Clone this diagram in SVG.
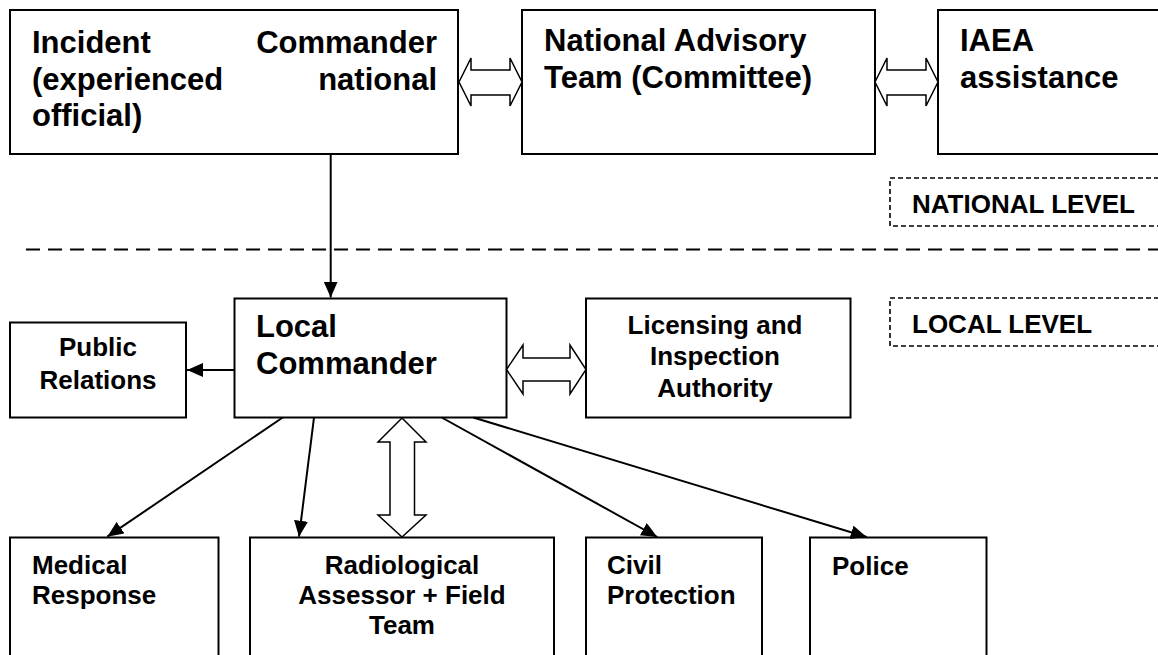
<svg xmlns="http://www.w3.org/2000/svg" width="1158" height="655" viewBox="0 0 1158 655">
<style>
.box{fill:#fff;stroke:#000;stroke-width:2}
.lvl{fill:#fff;stroke:#000;stroke-width:1.6;stroke-dasharray:5 3}
.t{font-family:"Liberation Sans",Arial,sans-serif;font-weight:bold;fill:#000}
.big{font-size:31px}
.med{font-size:26px}
.c{text-anchor:middle}
.e{text-anchor:end}
.line{stroke:#000;stroke-width:2;fill:none}
.dbl{fill:#fff;stroke:#000;stroke-width:1.5;stroke-linejoin:miter}
</style>
<defs>
<marker id="ah" markerUnits="userSpaceOnUse" markerWidth="16" markerHeight="14" refX="16" refY="7" orient="auto">
<path d="M0,0 L16,7 L0,14 z" fill="#000"/>
</marker>
</defs>
<rect width="1158" height="655" fill="#fff"/>

<line x1="26" y1="249.5" x2="1158" y2="249.5" stroke="#000" stroke-width="2" stroke-dasharray="14 8"/>

<g id="incident-commander">
<rect class="box" x="10" y="10" width="448" height="144"/>
<text class="t big" x="32" y="53">Incident</text>
<text class="t big e" x="437" y="53">Commander</text>
<text class="t big" x="32" y="89.5">(experienced</text>
<text class="t big e" x="437" y="89.5">national</text>
<text class="t big" x="32" y="126">official)</text>
</g>

<g id="national-advisory">
<rect class="box" x="522" y="10" width="353" height="144"/>
<text class="t big" x="544" y="51">National Advisory</text>
<text class="t big" x="544" y="88">Team (Committee)</text>
</g>

<g id="iaea">
<rect class="box" x="938" y="10" width="240" height="144"/>
<text class="t big" x="960" y="51">IAEA</text>
<text class="t big" x="960" y="88">assistance</text>
</g>

<g id="national-level">
<rect class="lvl" x="890" y="178" width="300" height="48"/>
<text class="t med" x="912" y="212.5">NATIONAL LEVEL</text>
</g>

<g id="local-level">
<rect class="lvl" x="890" y="298" width="300" height="48"/>
<text class="t med" x="912" y="332.5">LOCAL LEVEL</text>
</g>

<g id="local-commander">
<rect class="box" x="234.5" y="298.5" width="272" height="119"/>
<text class="t big" x="256" y="337">Local</text>
<text class="t big" x="256" y="374">Commander</text>
</g>

<g id="public-relations">
<rect class="box" x="10" y="322.5" width="176" height="95"/>
<text class="t med c" x="98" y="356">Public</text>
<text class="t med c" x="98" y="388.5">Relations</text>
</g>

<g id="licensing">
<rect class="box" x="586" y="298.5" width="264.5" height="119"/>
<text class="t med c" x="715" y="333.5">Licensing and</text>
<text class="t med c" x="715" y="365">Inspection</text>
<text class="t med c" x="715" y="396.5">Authority</text>
</g>

<g id="medical">
<rect class="box" x="10" y="537.5" width="208.5" height="140"/>
<text class="t med" x="32" y="573.5">Medical</text>
<text class="t med" x="32" y="603.5">Response</text>
</g>

<g id="radiological">
<rect class="box" x="250" y="537.5" width="304" height="140"/>
<text class="t med c" x="402" y="573.5">Radiological</text>
<text class="t med c" x="402" y="603.5">Assessor + Field</text>
<text class="t med c" x="402" y="633.5">Team</text>
</g>

<g id="civil-protection">
<rect class="box" x="586" y="537.5" width="176" height="140"/>
<text class="t med" x="607" y="573.5">Civil</text>
<text class="t med" x="607" y="604">Protection</text>
</g>

<g id="police">
<rect class="box" x="810" y="537.5" width="176.5" height="140"/>
<text class="t med" x="832" y="575">Police</text>
</g>

<g id="connectors">
<polygon class="dbl" points="459,82 471,58 471,70 510,70 510,58 522,82 510,106 510,95 471,95 471,106"/>
<polygon class="dbl" points="875,82 887,58 887,70 926,70 926,58 938,82 926,106 926,95 887,95 887,106"/>
<polygon class="dbl" points="506.5,369.5 523,345 523,358 570,358 570,345 586,369.5 570,394 570,381 523,381 523,394"/>
<polygon class="dbl" points="402,418 426,442 414.5,442 414.5,515 426,515 402,537 378,515 390,515 390,442 378,442"/>
<line class="line" x1="330.7" y1="154" x2="330.7" y2="297.5" marker-end="url(#ah)"/>
<line class="line" x1="234.5" y1="370" x2="187" y2="370" marker-end="url(#ah)"/>
<line class="line" x1="282.7" y1="417.5" x2="107.3" y2="536.7" marker-end="url(#ah)"/>
<line class="line" x1="314" y1="417.5" x2="299" y2="536.7" marker-end="url(#ah)"/>
<line class="line" x1="441.7" y1="417.5" x2="657.3" y2="537" marker-end="url(#ah)"/>
<line class="line" x1="473.3" y1="417.5" x2="866.7" y2="537" marker-end="url(#ah)"/>
</g>
</svg>
